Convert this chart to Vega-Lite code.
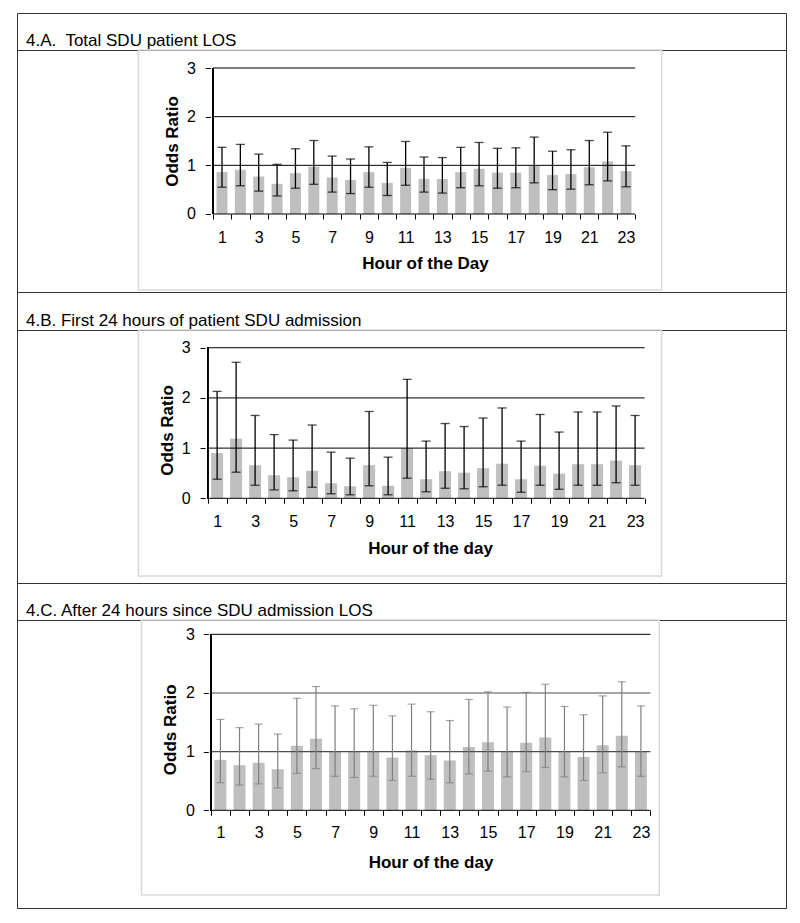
{
  "$schema": "https://vega.github.io/schema/vega-lite/v6.json",
  "padding": {"left": 16, "top": 12, "right": 0, "bottom": 0},
  "background": "white",
  "spacing": 0,
  "bounds": "flush",
  "config": {
    "font": "Liberation Sans",
    "view": {"stroke": "#333333", "strokeWidth": 1},
    "axis": {"labelColor": "black", "titleColor": "black", "labelFont": "Liberation Sans", "titleFont": "Liberation Sans", "labelFontSize": 16, "titleFontSize": 17, "titleFontWeight": "bold", "tickColor": "black", "tickSize": 5, "tickWidth": 1, "grid": false, "domain": false}
  },
  "vconcat": [
    {
      "width": 769, "height": 37,
      "data": {"values": [{"t": "4.A.\u00a0 Total SDU patient LOS"}]},
      "mark": {"type": "text", "align": "left", "baseline": "alphabetic", "dx": 9, "dy": -4, "fontSize": 17, "font": "Liberation Sans", "color": "black"},
      "encoding": {
        "x": {"datum": 0, "type": "quantitative", "scale": {"domain": [0, 1]}, "axis": null},
        "y": {"datum": 0, "type": "quantitative", "scale": {"domain": [0, 1]}, "axis": null},
        "text": {"field": "t"}
      }
    },
    {
      "width": 769, "height": 242,
      "resolve": {"axis": {"x": "independent"}},
      "data": {"values": [
        {"h": 1, "or": 0.86, "lo": 0.55, "hi": 1.37},
        {"h": 2, "or": 0.91, "lo": 0.58, "hi": 1.43},
        {"h": 3, "or": 0.77, "lo": 0.47, "hi": 1.23},
        {"h": 4, "or": 0.62, "lo": 0.37, "hi": 1.02},
        {"h": 5, "or": 0.84, "lo": 0.53, "hi": 1.34},
        {"h": 6, "or": 0.97, "lo": 0.61, "hi": 1.51},
        {"h": 7, "or": 0.75, "lo": 0.45, "hi": 1.19},
        {"h": 8, "or": 0.70, "lo": 0.42, "hi": 1.13},
        {"h": 9, "or": 0.86, "lo": 0.55, "hi": 1.38},
        {"h": 10, "or": 0.64, "lo": 0.38, "hi": 1.06},
        {"h": 11, "or": 0.95, "lo": 0.59, "hi": 1.49},
        {"h": 12, "or": 0.72, "lo": 0.45, "hi": 1.17},
        {"h": 13, "or": 0.72, "lo": 0.43, "hi": 1.16},
        {"h": 14, "or": 0.86, "lo": 0.54, "hi": 1.37},
        {"h": 15, "or": 0.93, "lo": 0.58, "hi": 1.47},
        {"h": 16, "or": 0.85, "lo": 0.53, "hi": 1.35},
        {"h": 17, "or": 0.85, "lo": 0.54, "hi": 1.36},
        {"h": 18, "or": 0.99, "lo": 0.64, "hi": 1.58},
        {"h": 19, "or": 0.80, "lo": 0.50, "hi": 1.29},
        {"h": 20, "or": 0.82, "lo": 0.51, "hi": 1.32},
        {"h": 21, "or": 0.96, "lo": 0.60, "hi": 1.51},
        {"h": 22, "or": 1.08, "lo": 0.68, "hi": 1.68},
        {"h": 23, "or": 0.88, "lo": 0.56, "hi": 1.40}
      ]},
      "layer": [
        {
          "data": {"values": [{}]},
          "mark": {"type": "rect", "fill": null, "fillOpacity": 0, "stroke": "#d9d9d9", "strokeWidth": 1.5},
          "encoding": {"x": {"datum": -3.55, "axis": null}, "x2": {"datum": 24.94}, "y": {"datum": 3.37}, "y2": {"datum": -1.562}}
        },
        {
          "mark": {"type": "bar", "color": "#bfbfbf", "width": 11},
          "encoding": {
            "x": {"field": "h", "type": "quantitative", "title": "Hour of the Day",
              "scale": {"domain": [-9.89, 31.44], "nice": false, "zero": false},
              "axis": {"orient": "bottom", "offset": -78, "values": [1,3,5,7,9,11,13,15,17,19,21,23], "format": "d", "ticks": false,
                "labelPadding": 15,
                "titleX": 408, "titleY": 54, "titleBaseline": "alphabetic"}},
            "y": {"field": "or", "type": "quantitative", "title": "Odds Ratio",
              "scale": {"domain": [-1.603, 3.37], "nice": false, "zero": false},
              "axis": {"offset": -193.3, "values": [0, 1, 2, 3], "format": "d", "labelPadding": 10, "titlePadding": 5, "titleY": 91}},
            "y2": {"datum": 0}
          }
        },
        {
          "data": {"values": [{"g": 0}, {"g": 1}, {"g": 2}, {"g": 3}]},
          "mark": {"type": "rule", "color": "black", "strokeWidth": 1},
          "encoding": {"y": {"field": "g", "type": "quantitative"}, "x": {"datum": 0.5, "axis": null}, "x2": {"datum": 23.5}}
        },
        {
          "mark": {"type": "rule", "color": "black", "strokeWidth": 1},
          "encoding": {"x": {"datum": 0.5, "axis": {"orient": "bottom", "offset": -78, "values": [0.5,1.5,2.5,3.5,4.5,5.5,6.5,7.5,8.5,9.5,10.5,11.5,12.5,13.5,14.5,15.5,16.5,17.5,18.5,19.5,20.5,21.5,22.5,23.5], "labels": false, "ticks": true, "title": null}}, "y": {"datum": 0}, "y2": {"datum": 3}}
        },
        {
          "mark": {"type": "rule", "color": "black", "strokeWidth": 1.3},
          "encoding": {"x": {"field": "h", "type": "quantitative", "axis": null}, "y": {"field": "lo", "type": "quantitative"}, "y2": {"field": "hi"}}
        },
        {
          "mark": {"type": "tick", "orient": "horizontal", "color": "black", "size": 9, "thickness": 1.3},
          "encoding": {"x": {"field": "h", "type": "quantitative", "axis": null}, "y": {"field": "hi", "type": "quantitative"}}
        },
        {
          "mark": {"type": "tick", "orient": "horizontal", "color": "black", "size": 9, "thickness": 1.3},
          "encoding": {"x": {"field": "h", "type": "quantitative", "axis": null}, "y": {"field": "lo", "type": "quantitative"}}
        }
      ]
    },
    {
      "width": 769, "height": 38,
      "data": {"values": [{"t": "4.B. First 24 hours of patient SDU admission"}]},
      "mark": {"type": "text", "align": "left", "baseline": "alphabetic", "dx": 9, "dy": -4, "fontSize": 17, "font": "Liberation Sans", "color": "black"},
      "encoding": {
        "x": {"datum": 0, "type": "quantitative", "scale": {"domain": [0, 1]}, "axis": null},
        "y": {"datum": 0, "type": "quantitative", "scale": {"domain": [0, 1]}, "axis": null},
        "text": {"field": "t"}
      }
    },
    {
      "width": 769, "height": 253,
      "resolve": {"axis": {"x": "independent"}},
      "data": {"values": [
        {"h": 1, "or": 0.90, "lo": 0.38, "hi": 2.13},
        {"h": 2, "or": 1.19, "lo": 0.52, "hi": 2.71},
        {"h": 3, "or": 0.66, "lo": 0.26, "hi": 1.65},
        {"h": 4, "or": 0.46, "lo": 0.17, "hi": 1.27},
        {"h": 5, "or": 0.42, "lo": 0.15, "hi": 1.16},
        {"h": 6, "or": 0.55, "lo": 0.22, "hi": 1.46},
        {"h": 7, "or": 0.30, "lo": 0.09, "hi": 0.92},
        {"h": 8, "or": 0.24, "lo": 0.07, "hi": 0.80},
        {"h": 9, "or": 0.66, "lo": 0.25, "hi": 1.73},
        {"h": 10, "or": 0.25, "lo": 0.07, "hi": 0.82},
        {"h": 11, "or": 1.00, "lo": 0.40, "hi": 2.37},
        {"h": 12, "or": 0.38, "lo": 0.13, "hi": 1.14},
        {"h": 13, "or": 0.54, "lo": 0.20, "hi": 1.49},
        {"h": 14, "or": 0.51, "lo": 0.19, "hi": 1.43},
        {"h": 15, "or": 0.60, "lo": 0.23, "hi": 1.60},
        {"h": 16, "or": 0.69, "lo": 0.26, "hi": 1.80},
        {"h": 17, "or": 0.38, "lo": 0.12, "hi": 1.14},
        {"h": 18, "or": 0.65, "lo": 0.26, "hi": 1.67},
        {"h": 19, "or": 0.49, "lo": 0.18, "hi": 1.32},
        {"h": 20, "or": 0.68, "lo": 0.26, "hi": 1.72},
        {"h": 21, "or": 0.68, "lo": 0.26, "hi": 1.72},
        {"h": 22, "or": 0.75, "lo": 0.31, "hi": 1.84},
        {"h": 23, "or": 0.66, "lo": 0.26, "hi": 1.65}
      ]},
      "layer": [
        {
          "data": {"values": [{}]},
          "mark": {"type": "rect", "fill": null, "fillOpacity": 0, "stroke": "#d9d9d9", "strokeWidth": 1.5},
          "encoding": {"x": {"datum": -3.14, "axis": null}, "x2": {"datum": 24.39}, "y": {"datum": 3.353}, "y2": {"datum": -1.547}}
        },
        {
          "mark": {"type": "bar", "color": "#bfbfbf", "width": 12},
          "encoding": {
            "x": {"field": "h", "type": "quantitative", "title": "Hour of the day",
              "scale": {"domain": [-9.27, 30.68], "nice": false, "zero": false},
              "axis": {"orient": "bottom", "offset": -84.7, "values": [1,3,5,7,9,11,13,15,17,19,21,23], "format": "d", "ticks": false,
                "labelPadding": 15.5,
                "titleX": 413, "titleY": 55.4, "titleBaseline": "alphabetic"}},
            "y": {"field": "or", "type": "quantitative", "title": "Odds Ratio",
              "scale": {"domain": [-1.687, 3.353], "nice": false, "zero": false},
              "axis": {"offset": -188.1, "values": [0, 1, 2, 3], "format": "d", "labelPadding": 10, "titlePadding": 5, "titleY": 100}},
            "y2": {"datum": 0}
          }
        },
        {
          "data": {"values": [{"g": 0}, {"g": 1}, {"g": 2}, {"g": 3}]},
          "mark": {"type": "rule", "color": "black", "strokeWidth": 1},
          "encoding": {"y": {"field": "g", "type": "quantitative"}, "x": {"datum": 0.5, "axis": null}, "x2": {"datum": 23.5}}
        },
        {
          "mark": {"type": "rule", "color": "black", "strokeWidth": 1},
          "encoding": {"x": {"datum": 0.5, "axis": {"orient": "bottom", "offset": -84.7, "values": [0.5,1.5,2.5,3.5,4.5,5.5,6.5,7.5,8.5,9.5,10.5,11.5,12.5,13.5,14.5,15.5,16.5,17.5,18.5,19.5,20.5,21.5,22.5,23.5], "labels": false, "ticks": true, "title": null}}, "y": {"datum": 0}, "y2": {"datum": 3}}
        },
        {
          "mark": {"type": "rule", "color": "black", "strokeWidth": 1.3},
          "encoding": {"x": {"field": "h", "type": "quantitative", "axis": null}, "y": {"field": "lo", "type": "quantitative"}, "y2": {"field": "hi"}}
        },
        {
          "mark": {"type": "tick", "orient": "horizontal", "color": "black", "size": 9, "thickness": 1.3},
          "encoding": {"x": {"field": "h", "type": "quantitative", "axis": null}, "y": {"field": "hi", "type": "quantitative"}}
        },
        {
          "mark": {"type": "tick", "orient": "horizontal", "color": "black", "size": 9, "thickness": 1.3},
          "encoding": {"x": {"field": "h", "type": "quantitative", "axis": null}, "y": {"field": "lo", "type": "quantitative"}}
        }
      ]
    },
    {
      "width": 769, "height": 37,
      "data": {"values": [{"t": "4.C. After 24 hours since SDU admission LOS"}]},
      "mark": {"type": "text", "align": "left", "baseline": "alphabetic", "dx": 9, "dy": -4, "fontSize": 17, "font": "Liberation Sans", "color": "black"},
      "encoding": {
        "x": {"datum": 0, "type": "quantitative", "scale": {"domain": [0, 1]}, "axis": null},
        "y": {"datum": 0, "type": "quantitative", "scale": {"domain": [0, 1]}, "axis": null},
        "text": {"field": "t"}
      }
    },
    {
      "width": 769, "height": 288,
      "resolve": {"axis": {"x": "independent"}},
      "data": {"values": [
        {"h": 1, "or": 0.86, "lo": 0.47, "hi": 1.55},
        {"h": 2, "or": 0.77, "lo": 0.43, "hi": 1.41},
        {"h": 3, "or": 0.81, "lo": 0.45, "hi": 1.47},
        {"h": 4, "or": 0.70, "lo": 0.38, "hi": 1.30},
        {"h": 5, "or": 1.10, "lo": 0.63, "hi": 1.91},
        {"h": 6, "or": 1.22, "lo": 0.71, "hi": 2.11},
        {"h": 7, "or": 1.01, "lo": 0.58, "hi": 1.78},
        {"h": 8, "or": 1.01, "lo": 0.56, "hi": 1.73},
        {"h": 9, "or": 1.01, "lo": 0.58, "hi": 1.79},
        {"h": 10, "or": 0.90, "lo": 0.51, "hi": 1.61},
        {"h": 11, "or": 1.02, "lo": 0.58, "hi": 1.81},
        {"h": 12, "or": 0.94, "lo": 0.53, "hi": 1.68},
        {"h": 13, "or": 0.85, "lo": 0.47, "hi": 1.53},
        {"h": 14, "or": 1.08, "lo": 0.62, "hi": 1.89},
        {"h": 15, "or": 1.16, "lo": 0.67, "hi": 2.02},
        {"h": 16, "or": 1.01, "lo": 0.57, "hi": 1.76},
        {"h": 17, "or": 1.15, "lo": 0.66, "hi": 2.01},
        {"h": 18, "or": 1.24, "lo": 0.73, "hi": 2.15},
        {"h": 19, "or": 1.01, "lo": 0.57, "hi": 1.77},
        {"h": 20, "or": 0.91, "lo": 0.51, "hi": 1.63},
        {"h": 21, "or": 1.11, "lo": 0.64, "hi": 1.95},
        {"h": 22, "or": 1.27, "lo": 0.74, "hi": 2.19},
        {"h": 23, "or": 1.01, "lo": 0.58, "hi": 1.78}
      ]},
      "layer": [
        {
          "data": {"values": [{}]},
          "mark": {"type": "rect", "fill": null, "fillOpacity": 0, "stroke": "#d9d9d9", "strokeWidth": 1.5},
          "encoding": {"x": {"datum": -3.13, "axis": null}, "x2": {"datum": 23.96}, "y": {"datum": 3.244}, "y2": {"datum": -1.443}}
        },
        {
          "mark": {"type": "bar", "color": "#bfbfbf", "width": 12},
          "encoding": {
            "x": {"field": "h", "type": "quantitative", "title": "Hour of the day",
              "scale": {"domain": [-9.38, 30.33], "nice": false, "zero": false},
              "axis": {"orient": "bottom", "offset": -97.7, "values": [1,3,5,7,9,11,13,15,17,19,21,23], "format": "d", "ticks": false,
                "labelPadding": 14.5,
                "titleX": 413.5, "titleY": 57.4, "titleBaseline": "alphabetic"}},
            "y": {"field": "or", "type": "quantitative", "title": "Odds Ratio",
              "scale": {"domain": [-1.665, 3.244], "nice": false, "zero": false},
              "axis": {"offset": -191.3, "values": [0, 1, 2, 3], "format": "d", "labelPadding": 9, "titlePadding": 6, "titleY": 109.3}},
            "y2": {"datum": 0}
          }
        },
        {
          "data": {"values": [{"g": 1}, {"g": 2}]},
          "mark": {"type": "rule", "color": "#4d4d4d", "strokeWidth": 1.2},
          "encoding": {"y": {"field": "g", "type": "quantitative"}, "x": {"datum": 0.5, "axis": null}, "x2": {"datum": 23.5}}
        },
        {
          "data": {"values": [{"g": 0}, {"g": 3}]},
          "mark": {"type": "rule", "color": "black", "strokeWidth": 1},
          "encoding": {"y": {"field": "g", "type": "quantitative"}, "x": {"datum": 0.5, "axis": null}, "x2": {"datum": 23.5}}
        },
        {
          "mark": {"type": "rule", "color": "black", "strokeWidth": 1},
          "encoding": {"x": {"datum": 0.5, "axis": {"orient": "bottom", "offset": -97.7, "values": [0.5,1.5,2.5,3.5,4.5,5.5,6.5,7.5,8.5,9.5,10.5,11.5,12.5,13.5,14.5,15.5,16.5,17.5,18.5,19.5,20.5,21.5,22.5,23.5], "labels": false, "ticks": true, "title": null}}, "y": {"datum": 0}, "y2": {"datum": 3}}
        },
        {
          "mark": {"type": "rule", "color": "#7f7f7f", "strokeWidth": 1.2},
          "encoding": {"x": {"field": "h", "type": "quantitative", "axis": null}, "y": {"field": "lo", "type": "quantitative"}, "y2": {"field": "hi"}}
        },
        {
          "mark": {"type": "tick", "orient": "horizontal", "color": "#7f7f7f", "size": 8, "thickness": 1.2},
          "encoding": {"x": {"field": "h", "type": "quantitative", "axis": null}, "y": {"field": "hi", "type": "quantitative"}}
        },
        {
          "mark": {"type": "tick", "orient": "horizontal", "color": "#7f7f7f", "size": 8, "thickness": 1.2},
          "encoding": {"x": {"field": "h", "type": "quantitative", "axis": null}, "y": {"field": "lo", "type": "quantitative"}}
        }
      ]
    }
  ]
}
